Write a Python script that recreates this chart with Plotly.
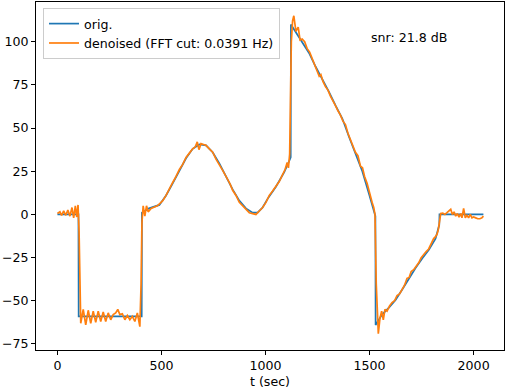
import plotly.graph_objects as go

# original signal (knots)
t_orig = [0, 101, 102, 405, 406, 440, 490, 522, 554, 586, 618, 650, 682, 714,
          746, 778, 810, 842, 874, 906, 938, 962, 986, 1010, 1050, 1090, 1114,
          1121, 1122, 1153, 1177, 1209, 1241, 1273, 1305, 1337, 1369, 1401,
          1433, 1465, 1497, 1521, 1528, 1529, 1560, 1593, 1625, 1657, 1689,
          1721, 1753, 1785, 1817, 1833, 1835, 1836, 2047]
v_orig = [0, 0, -59, -59, 1, 3.5, 5.5, 11, 18, 25.5, 32.5, 38, 40.5, 40,
          36, 29.5, 22, 14.5, 8, 3.5, 1, 1, 4, 9, 16, 24.5, 31,
          33, 110, 104, 99.5, 93.5, 85.5, 78.5, 71, 63, 55.5, 45,
          35, 25, 12, 3, -1, -64, -58, -54, -49.5, -43.5, -37,
          -31, -25.5, -20.5, -14, -8, -6, 0, 0]

# denoised signal
t_den = [0, 12, 20, 30, 40, 50, 60, 70, 78, 86, 93, 99, 104, 108, 112, 124,
         136, 148, 160, 172, 184, 196, 208, 220, 232, 244, 256, 268, 280, 290,
         300, 312, 324, 336, 348, 360, 372, 384, 396, 402, 406, 412, 420, 428,
         436, 450, 465, 480, 494, 506, 522, 538, 554, 570, 586, 602, 618, 634,
         650, 662, 672, 680, 690, 702, 714, 730, 746, 762, 778, 794, 810, 820,
         830, 842, 858, 874, 890, 906, 922, 938, 954, 970, 986, 1002, 1018,
         1034, 1050, 1066, 1082, 1094, 1104, 1110, 1116, 1120, 1124, 1130,
         1136, 1146, 1157, 1166, 1176, 1188, 1200, 1212, 1224, 1236, 1248,
         1258, 1266, 1276, 1288, 1300, 1312, 1324, 1336, 1348, 1360, 1372,
         1384, 1396, 1408, 1420, 1432, 1444, 1456, 1466, 1476, 1488, 1496,
         1504, 1512, 1520, 1526, 1532, 1538, 1542, 1550, 1558, 1566, 1574,
         1584, 1596, 1608, 1620, 1632, 1644, 1656, 1668, 1680, 1690, 1700,
         1712, 1724, 1736, 1748, 1760, 1772, 1784, 1796, 1808, 1816, 1824,
         1830, 1836, 1842, 1852, 1862, 1872, 1880, 1890, 1898, 1906, 1914,
         1922, 1930, 1938, 1944, 1952, 1960, 1968, 1976, 1984, 1992, 2000,
         2010, 2020, 2030, 2040, 2047]
v_den = [0.5, 1.5, -0.5, 2, -0.5, 2.5, -1, 4, -2, 5, -1.5, 5.5, -10, -55,
         -63, -55, -64, -55.5, -63, -56, -62.5, -56, -62, -56.5, -62, -57,
         -61, -58, -57, -55, -58, -57.5, -61, -58.5, -61, -59, -62, -57, -65,
         -40, -5, 5, -1, 5, 1.5, 3.5, 4.5, 5, 6.5, 8, 11, 15, 18.5, 22, 26, 29,
         33, 35.5, 38, 39, 42, 37.5, 41, 40.5, 40, 38, 36, 32, 29, 25.5, 22,
         20, 17.5, 14, 11, 7, 5, 3, 1, 0.5, 0, 2, 4, 7, 11, 13.5, 16, 19, 23,
         26, 30, 27, 35, 60, 100, 112, 115, 106, 108.5, 101, 101.5, 100, 96,
         94, 90.5, 87, 84, 80, 81, 77, 74, 72, 68.5, 66, 63, 60, 57.5, 54, 52,
         47, 43, 40, 36, 34, 28, 27, 22, 18, 14, 10, 7, 4, 0, -40, -66, -69,
         -60, -56, -61, -55, -56, -53, -51, -50, -47, -46, -43.5, -41, -37,
         -36.5, -33, -32, -30, -28, -25, -23, -21.5, -20, -17, -14, -13, -11.5,
         -9, -3, 0.5, 0.8, 0, 1, 2, 3, 0, 1.5, -1, 0.5, -1.5, 0.5, -2, 3.5,
         -2, -0.5, -2, 0, -2, -1.5, -2, -2.5, -2.5, -2, -1, 0.5]

snr_text = "snr: 21.8 dB"
cut_hz = 0.0391

FS = 12.6

fig = go.Figure()
fig.add_trace(go.Scatter(x=t_orig, y=v_orig, mode="lines", name="orig.",
                         line=dict(color="#1f77b4", width=1.7)))
fig.add_trace(go.Scatter(x=t_den, y=v_den, mode="lines",
                         name=f"denoised (FFT cut: {cut_hz} Hz)",
                         line=dict(color="#ff7f0e", width=1.7)))

fig.add_annotation(text=snr_text, xref="x domain", yref="y domain",
                   x=0.711, y=0.897, xanchor="left", yanchor="middle",
                   showarrow=False, font=dict(size=FS, color="black"))

axis_style = dict(showline=True, mirror=True, linecolor="black", linewidth=1,
                  ticks="outside", ticklen=4, tickcolor="black", showgrid=False,
                  zeroline=False, automargin=False,
                  tickfont=dict(size=FS, color="black"))

fig.update_xaxes(range=[-103, 2146], tickvals=[0, 500, 1000, 1500, 2000],
                 title=dict(text="t (sec)", font=dict(size=FS, color="black"),
                            standoff=5),
                 **axis_style)
fig.update_yaxes(range=[-78.5, 123], tickvals=[-75, -50, -25, 0, 25, 50, 75, 100],
                 **axis_style)

fig.update_layout(
    width=506, height=390,
    margin=dict(l=36, r=2, t=2, b=40),
    plot_bgcolor="white", paper_bgcolor="white",
    font=dict(family="DejaVu Sans", size=FS, color="black"),
    legend=dict(x=0.015, y=0.983, xanchor="left", yanchor="top",
                bgcolor="rgba(255,255,255,0.8)", bordercolor="#cccccc",
                borderwidth=1, font=dict(size=FS), tracegroupgap=0),
    showlegend=True,
)

fig.write_html("out.html",
               config={"displayModeBar": False},
               post_script="document.body.style.margin='0';"
                           "document.body.style.overflow='hidden';")
